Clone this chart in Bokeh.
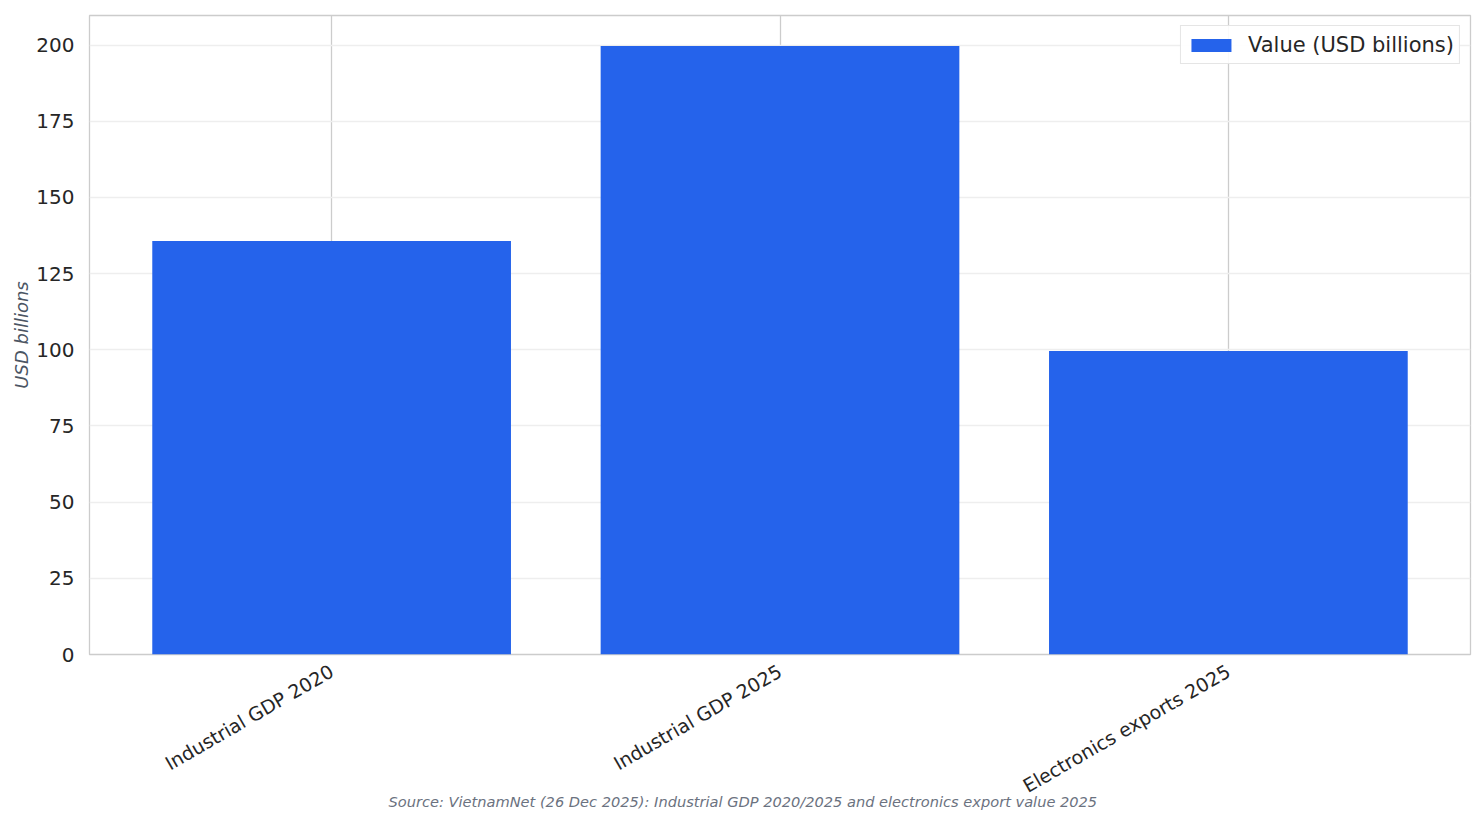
import math
from bokeh.plotting import figure
from bokeh.models import ColumnDataSource, Range1d, FixedTicker, Title, Legend, LegendItem
from bokeh.embed import file_html
from bokeh.resources import INLINE

# data
categories = ["Industrial GDP 2020", "Industrial GDP 2025", "Electronics exports 2025"]
values = [135.7, 199.7, 99.6]
y_ticks = [0, 25, 50, 75, 100, 125, 150, 175, 200]
source_note = "Source: VietnamNet (26 Dec 2025): Industrial GDP 2020/2025 and electronics export value 2025"

FONT = "DejaVu Sans"
BAR = "#2563eb"

source = ColumnDataSource(data=dict(x=list(range(len(categories))), top=values))

p = figure(width=1484, height=824, output_backend="svg", toolbar_location=None,
           x_range=Range1d(-0.54, len(categories) - 1 + 0.54),
           y_range=Range1d(0, 209.7),
           min_border_left=89, min_border_right=14, min_border_top=15, min_border_bottom=170)

p.background_fill_color = "white"
p.border_fill_color = "white"
p.outline_line_color = "#cccccc"
p.outline_line_width = 1.3

r = p.vbar(x="x", top="top", width=0.8, source=source, color=BAR, line_color=None)

# x axis, rotated labels
p.xaxis.ticker = FixedTicker(ticks=list(range(len(categories))))
p.xaxis.major_label_overrides = {i: c for i, c in enumerate(categories)}
p.xaxis.major_label_orientation = math.pi / 6
p.xaxis.major_label_text_font = FONT
p.xaxis.major_label_text_font_size = "19px"
p.xaxis.major_label_text_color = "#262626"
p.xaxis.major_label_standoff = 9

# y axis
p.yaxis.ticker = FixedTicker(ticks=y_ticks)
p.yaxis.major_label_text_font = FONT
p.yaxis.major_label_text_font_size = "20px"
p.yaxis.major_label_text_color = "#262626"
p.yaxis.major_label_standoff = 9
p.yaxis.axis_label = "USD billions"
p.yaxis.axis_label_text_font = FONT
p.yaxis.axis_label_text_font_size = "18px"
p.yaxis.axis_label_text_font_style = "italic"
p.yaxis.axis_label_text_color = "#4b5563"
p.yaxis.axis_label_standoff = 1

for ax in (p.xaxis, p.yaxis):
    ax.axis_line_color = None
    ax.major_tick_line_color = None
    ax.minor_tick_line_color = None

p.xgrid.grid_line_color = "#cccccc"
p.xgrid.grid_line_width = 1.3
p.ygrid.grid_line_color = "#eeeeee"
p.ygrid.grid_line_width = 1.3

legend = Legend(items=[LegendItem(label="Value (USD billions)", renderers=[r])],
                location="top_right", margin=10, padding=5, spacing=0,
                glyph_width=50, glyph_height=16, label_standoff=12, label_height=27,
                label_text_font=FONT, label_text_font_size="21px", label_text_color="#262626",
                border_line_color="#cccccc", border_line_width=1.3,
                background_fill_color="white", background_fill_alpha=0.9)
p.add_layout(legend)

# source note under the axis (pulled up into the axis padding)
p.add_layout(Title(text=source_note, align="left", offset=299, standoff=-34, vertical_align="top",
                   text_font=FONT, text_font_size="14.6px", text_font_style="italic",
                   text_color="#6b7280"), "below")

open("out.html", "w").write(file_html(p, INLINE))
